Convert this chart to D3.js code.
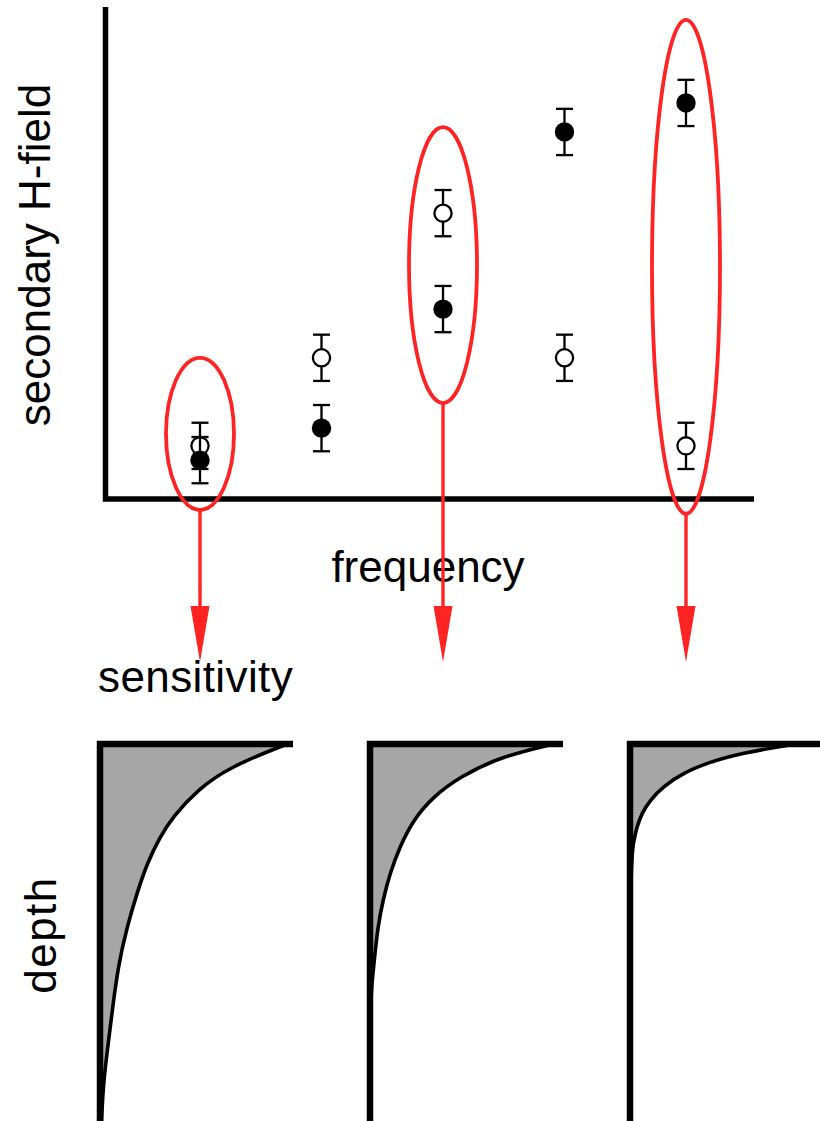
<!DOCTYPE html>
<html>
<head>
<meta charset="utf-8">
<script src="https://cdn.jsdelivr.net/npm/d3@7/dist/d3.min.js"></script>
<style>
  html, body { margin: 0; padding: 0; background: #fff; }
  svg { display: block; }
  text { font-family: "Liberation Sans", Arial, Helvetica, sans-serif; fill: #000; }
</style>
</head>
<body>
<svg id="chart" width="820" height="1121"></svg>
<script>
// ---- secondary field measurements vs frequency ----
const frequencies = [1, 2, 3, 4, 5];
const filledField = [7.9, 14.4, 38.6, 74.6, 80.5];
const filledErr   = [4.7, 4.7, 4.7, 4.7, 4.7];
const openField   = [10.8, 28.7, 58.1, 28.7, 10.8];
const openErr     = [4.7, 4.7, 4.7, 4.7, 4.7];

// frequencies picked out for the depth-sensitivity sketches (field range enclosed)
const highlightFreq = [1, 3, 5];
const highlightLo   = [-2.2, 19.5, -3.0];
const highlightHi   = [28.7, 75.6, 97.4];

// ---- sensitivity vs depth at each highlighted frequency (depth 0 = surface) ----
const depthLow   = [0, 6.0, 12.2, 19.3, 24.6, 31.6, 39.5, 48.5, 59.1, 71.4, 82.0, 91.0, 100];
const sensLow    = [97, 67.4, 50.3, 37.8, 31.1, 24.4, 19.2, 14.0, 9.3, 6.2, 3.6, 1.6, 0.8];
const depthMid   = [0, 3.4, 8.7, 14.0, 20.2, 27.2, 34.2, 41.4, 48.5, 55.4, 60.7, 68, 100];
const sensMid    = [95, 67.4, 46.6, 32.6, 22.3, 15.5, 10.4, 6.7, 4.1, 2.6, 1.6, 0, 0];
const depthHigh  = [0, 0.5, 2.4, 4.7, 7.7, 11.3, 14.9, 18.3, 21.9, 25.5, 30.8, 100];
const sensHigh   = [88, 79.3, 58.5, 41.5, 27.5, 17.1, 10.4, 6.2, 3.6, 2.1, 0, 0];

const profiles = [
  { freq: 1, depth: depthLow,  sens: sensLow },
  { freq: 3, depth: depthMid,  sens: sensMid },
  { freq: 5, depth: depthHigh, sens: sensHigh }
];

const RED = "#ff2424";
const svg = d3.select("#chart");

// ---------- upper plot ----------
const x = d3.scaleLinear().domain([1, 5]).range([200, 686]);
const y = d3.scaleLinear().domain([0, 100]).range([499, 7]);

svg.append("path")
  .attr("d", `M105.5,${y(100)}V${y(0)}H754`)
  .attr("fill", "none").attr("stroke", "#000")
  .attr("stroke-width", 5.5).attr("stroke-linejoin", "miter");

svg.append("text")
  .attr("transform", "translate(50,255) rotate(-90)")
  .attr("text-anchor", "middle").attr("font-size", 44)
  .text("secondary H-field");

svg.append("text")
  .attr("x", 428).attr("y", 582)
  .attr("text-anchor", "middle").attr("font-size", 44)
  .text("frequency");

function drawSeries(vals, errs, filled) {
  const g = svg.append("g");
  const rows = frequencies.map((f, i) => ({ f, v: vals[i], e: errs[i] }));
  const cap = 8.5;
  rows.forEach(d => {
    const cx = x(d.f), top = y(d.v + d.e), bot = y(d.v - d.e);
    g.append("line").attr("x1", cx).attr("x2", cx).attr("y1", top).attr("y2", bot)
      .attr("stroke", "#000").attr("stroke-width", 2.3);
    g.append("line").attr("x1", cx - cap).attr("x2", cx + cap).attr("y1", top).attr("y2", top)
      .attr("stroke", "#000").attr("stroke-width", 2.3);
    g.append("line").attr("x1", cx - cap).attr("x2", cx + cap).attr("y1", bot).attr("y2", bot)
      .attr("stroke", "#000").attr("stroke-width", 2.3);
  });
  g.selectAll("circle").data(rows).join("circle")
    .attr("cx", d => x(d.f)).attr("cy", d => y(d.v))
    .attr("r", filled ? 9.7 : 8.6)
    .attr("fill", filled ? "#000" : "#fff")
    .attr("stroke", "#000").attr("stroke-width", filled ? 0 : 2.3);
}
drawSeries(openField, openErr, false);
drawSeries(filledField, filledErr, true);

// ellipses and arrows
const arrowTip = 662, headLen = 56, headHalf = 9.5;
highlightFreq.forEach((f, i) => {
  const cx = x(f), top = y(highlightHi[i]), bot = y(highlightLo[i]);
  svg.append("ellipse")
    .attr("cx", cx).attr("cy", (top + bot) / 2)
    .attr("rx", 34).attr("ry", (bot - top) / 2)
    .attr("fill", "none").attr("stroke", RED).attr("stroke-width", 3.8);
  svg.append("line")
    .attr("x1", cx).attr("x2", cx).attr("y1", bot).attr("y2", arrowTip - headLen + 2)
    .attr("stroke", RED).attr("stroke-width", 3.4);
  svg.append("path")
    .attr("d", `M${cx - headHalf},${arrowTip - headLen}L${cx + headHalf},${arrowTip - headLen}L${cx},${arrowTip}Z`)
    .attr("fill", RED);
});

// ---------- depth sensitivity sketches ----------
svg.append("text")
  .attr("x", 98).attr("y", 692).attr("font-size", 44)
  .attr("letter-spacing", 0.4)
  .text("sensitivity");

svg.append("text")
  .attr("transform", "translate(56,935) rotate(-90)")
  .attr("text-anchor", "middle").attr("font-size", 44)
  .attr("letter-spacing", 1.5)
  .text("depth");

const panelLeft = d3.scaleOrdinal().domain(highlightFreq).range([100, 370, 630]);
const dScale = d3.scaleLinear().domain([0, 100]).range([744, 1121]);

profiles.forEach(p => {
  const x0 = panelLeft(p.freq);
  const sScale = d3.scaleLinear().domain([0, 100]).range([x0, x0 + 193]);
  const pts = p.depth.map((d, i) => ({ d, s: p.sens[i] }));
  const g = svg.append("g");

  g.append("path")
    .datum(pts)
    .attr("d", d3.area().x0(sScale(0)).x1(d => sScale(d.s)).y(d => dScale(d.d))
      .curve(d3.curveBasis))
    .attr("fill", "#a6a6a6");

  g.append("path")
    .datum(pts)
    .attr("d", d3.line().x(d => sScale(d.s)).y(d => dScale(d.d)).curve(d3.curveBasis))
    .attr("fill", "none").attr("stroke", "#000").attr("stroke-width", 3.6);

  g.append("path")
    .attr("d", `M${x0},1130V${dScale(0)}H${sScale(100)}`)
    .attr("fill", "none").attr("stroke", "#000")
    .attr("stroke-width", 6.5).attr("stroke-linejoin", "miter");
});
</script>
</body>
</html>
